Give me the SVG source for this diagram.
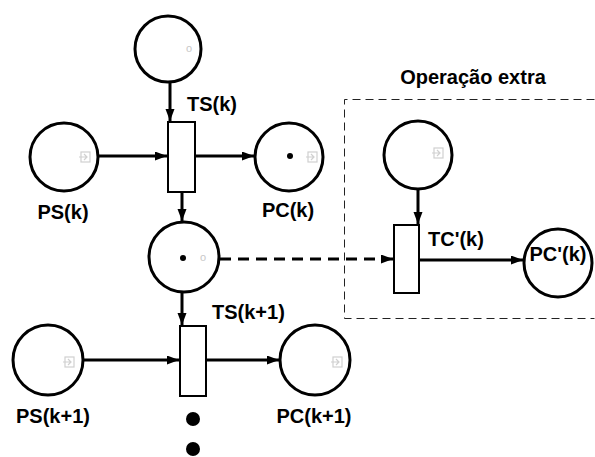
<svg xmlns="http://www.w3.org/2000/svg" width="595" height="457" viewBox="0 0 595 457">
<defs>
<marker id="ah" markerUnits="userSpaceOnUse" markerWidth="13" markerHeight="10" refX="12" refY="4.5" orient="auto">
<path d="M0,0 L12,4.5 L0,9 z" fill="#000"/>
</marker>
<g id="icon"><rect x="-5" y="-5" width="9" height="10" fill="none" stroke="#d0d0d0" stroke-width="1.2"/><path d="M-7,0 H1 M-2,-3 L1,0 L-2,3" fill="none" stroke="#d0d0d0" stroke-width="1.2"/></g>
</defs>
<style>
.place{fill:#fff;stroke:#000;stroke-width:3}
.trans{fill:#fff;stroke:#000;stroke-width:2}
.arc{stroke:#000;stroke-width:3;fill:none;marker-end:url(#ah)}
.dash{stroke-dasharray:11 7}
.lbl{font-family:"Liberation Sans",Arial,sans-serif;font-weight:bold;font-size:20px;fill:#000}
.tok{fill:#000}
.ghost{font-family:"Liberation Sans",Arial,sans-serif;font-size:11px;fill:#c8c8c8}
</style>
<rect width="595" height="457" fill="#fff"/>
<g id="extra-box">
<path d="M594.5,99.5 H344.5 V318.5 H594.5" fill="none" stroke="#222" stroke-width="1" stroke-dasharray="8 5"/>
<text class="lbl" x="473" y="84" text-anchor="middle">Operação extra</text>
</g>
<g id="connectors">
<line class="arc" x1="170" y1="81" x2="170" y2="121"/>
<line class="arc" x1="99" y1="156" x2="167" y2="156"/>
<line class="arc" x1="196" y1="156" x2="254" y2="156"/>
<line class="arc" x1="182" y1="193" x2="182" y2="221"/>
<line class="arc dash" x1="220" y1="259" x2="393" y2="259"/>
<line class="arc" x1="418" y1="189" x2="418" y2="224"/>
<line class="arc" x1="420" y1="260" x2="523" y2="260"/>
<line class="arc" x1="182" y1="293" x2="182" y2="325"/>
<line class="arc" x1="84" y1="360" x2="179" y2="360"/>
<line class="arc" x1="207" y1="360" x2="279" y2="360"/>
</g>
<g id="P-top">
<circle class="place" cx="168" cy="49" r="33"/>
<text class="ghost" x="186" y="52">o</text>
</g>
<g id="TS-k">
<rect class="trans" x="168" y="122" width="27" height="70"/>
<text class="lbl" x="187" y="111">TS(k)</text>
</g>
<g id="PS-k">
<circle class="place" cx="64" cy="157" r="34"/>
<use href="#icon" x="86" y="157"/>
<text class="lbl" x="63" y="219" text-anchor="middle">PS(k)</text>
</g>
<g id="PC-k">
<circle class="place" cx="289" cy="157" r="34"/>
<circle class="tok" cx="290" cy="156" r="3"/>
<use href="#icon" x="313" y="157"/>
<text class="lbl" x="288" y="217" text-anchor="middle">PC(k)</text>
</g>
<g id="P-mid">
<circle class="place" cx="184" cy="257" r="35"/>
<circle class="tok" cx="183" cy="258" r="3"/>
<text class="ghost" x="200" y="261">o</text>
</g>
<g id="P-extra">
<circle class="place" cx="418" cy="155" r="34"/>
<use href="#icon" x="439" y="153"/>
</g>
<g id="TC-k">
<rect class="trans" x="394" y="225" width="25" height="68"/>
<text class="lbl" x="428" y="246">TC'(k)</text>
</g>
<g id="PC-prime-k">
<circle class="place" cx="558" cy="263" r="34"/>
<text class="lbl" x="558" y="261" text-anchor="middle">PC'(k)</text>
</g>
<g id="TS-k1">
<rect class="trans" x="180" y="326" width="26" height="70"/>
<text class="lbl" x="212" y="319">TS(k+1)</text>
</g>
<g id="PS-k1">
<circle class="place" cx="48" cy="360" r="35"/>
<use href="#icon" x="70" y="362"/>
<text class="lbl" x="53" y="423" text-anchor="middle">PS(k+1)</text>
</g>
<g id="PC-k1">
<circle class="place" cx="315" cy="360" r="35"/>
<use href="#icon" x="338" y="362"/>
<text class="lbl" x="314" y="423" text-anchor="middle">PC(k+1)</text>
</g>
<g id="continuation">
<circle class="tok" cx="193" cy="419" r="7"/>
<circle class="tok" cx="193" cy="449" r="7"/>
</g>
</svg>
